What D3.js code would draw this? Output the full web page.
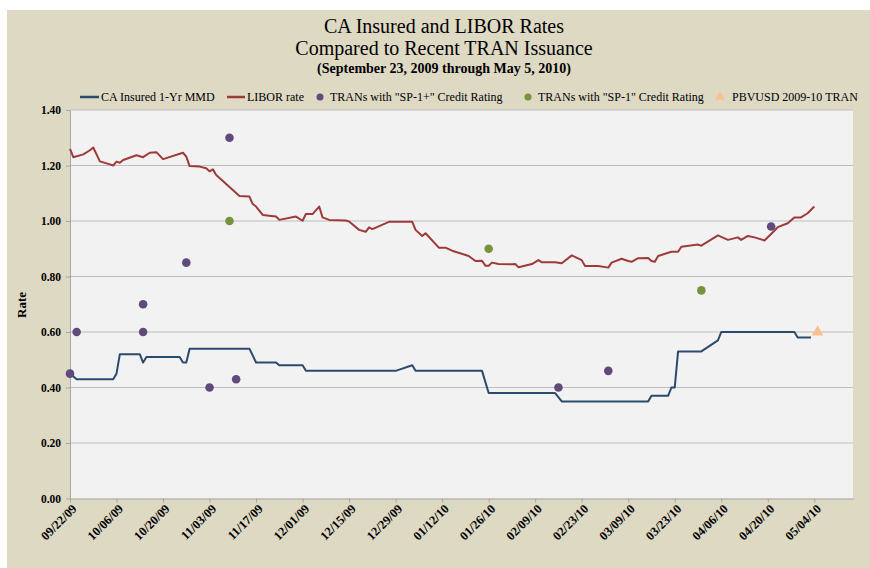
<!DOCTYPE html>
<html>
<head>
<meta charset="utf-8">
<script src="https://cdn.jsdelivr.net/npm/d3@7"></script>
<style>
  body { margin: 0; background: #fff; }
  svg { display: block; }
  text { font-family: "Liberation Serif", "Times New Roman", serif; }
</style>
</head>
<body>
<svg id="chart" width="870" height="568"></svg>
<script>
// CA Insured 1-Yr MMD
const mmdDates = ["09/22/09","09/24/09","10/05/09","10/06/09","10/07/09","10/13/09","10/14/09","10/15/09",
  "10/25/09","10/26/09","10/27/09","10/28/09","11/15/09","11/17/09","11/23/09","11/24/09","12/01/09",
  "12/02/09","12/29/09","01/03/10","01/04/10","01/24/10","01/26/10","02/15/10","02/17/10","03/15/10",
  "03/16/10","03/21/10","03/22/10","03/23/10","03/24/10","03/31/10","04/05/10","04/06/10","04/28/10",
  "04/29/10","05/03/10"];
const mmdValues = [0.45,0.43,0.43,0.45,0.52,0.52,0.49,0.51,
  0.51,0.49,0.49,0.54,0.54,0.49,0.49,0.48,0.48,
  0.46,0.46,0.48,0.46,0.46,0.38,0.38,0.35,0.35,
  0.37,0.37,0.40,0.40,0.53,0.53,0.57,0.60,0.60,
  0.58,0.58];

// LIBOR rate
const liborDates = ["09/22/09","09/23/09","09/26/09","09/28/09","09/29/09","10/01/09","10/04/09","10/05/09",
  "10/06/09","10/07/09","10/08/09","10/12/09","10/14/09","10/16/09","10/18/09","10/20/09","10/26/09",
  "10/27/09","10/28/09","10/31/09","11/02/09","11/03/09","11/04/09","11/05/09","11/10/09","11/12/09",
  "11/15/09","11/16/09","11/17/09","11/19/09","11/23/09","11/24/09","11/29/09","12/01/09","12/02/09",
  "12/04/09","12/06/09","12/07/09","12/09/09","12/14/09","12/15/09","12/18/09","12/20/09","12/21/09",
  "12/22/09","12/27/09","01/03/10","01/04/10","01/06/10","01/07/10","01/11/10","01/13/10","01/15/10",
  "01/20/10","01/22/10","01/24/10","01/25/10","01/26/10","01/27/10","01/29/10","02/02/10","02/03/10",
  "02/04/10","02/08/10","02/10/10","02/11/10","02/15/10","02/17/10","02/20/10","02/23/10","02/24/10",
  "02/28/10","03/03/10","03/04/10","03/07/10","03/09/10","03/10/10","03/12/10","03/15/10","03/16/10",
  "03/17/10","03/18/10","03/22/10","03/24/10","03/25/10","03/30/10","03/31/10","04/05/10","04/08/10",
  "04/11/10","04/12/10","04/14/10","04/16/10","04/19/10","04/22/10","04/23/10","04/26/10","04/28/10",
  "04/30/10","05/02/10","05/04/10"];
const liborValues = [1.26,1.23,1.24,1.255,1.265,1.215,1.204,1.20,
  1.214,1.21,1.22,1.237,1.23,1.246,1.248,1.223,1.246,
  1.232,1.198,1.196,1.19,1.179,1.186,1.166,1.112,1.09,
  1.088,1.061,1.052,1.022,1.016,1.004,1.016,1.001,1.025,
  1.025,1.052,1.013,1.004,1.002,0.998,0.968,0.961,0.977,
  0.971,0.997,0.997,0.968,0.946,0.956,0.904,0.904,0.893,
  0.874,0.856,0.857,0.839,0.839,0.85,0.845,0.844,0.845,
  0.833,0.845,0.859,0.851,0.851,0.848,0.876,0.859,0.838,
  0.838,0.832,0.85,0.864,0.856,0.853,0.866,0.867,0.856,
  0.853,0.874,0.889,0.889,0.907,0.915,0.911,0.948,0.932,
  0.941,0.932,0.946,0.941,0.93,0.965,0.978,0.992,1.013,
  1.013,1.028,1.052];

// TRANs with "SP-1+"
const sp1PlusDates = ["09/22/09","09/24/09","10/14/09","10/14/09","10/27/09","11/03/09","11/09/09","11/11/09",
  "02/16/10","03/03/10","04/21/10"];
const sp1PlusValues = [0.45,0.60,0.70,0.60,0.85,0.40,1.30,0.43,0.40,0.46,0.98];

// TRANs with "SP-1"
const sp1Dates = ["11/09/09","01/26/10","03/31/10"];
const sp1Values = [1.00,0.90,0.75];

// PBVUSD 2009-10 TRAN
const pbvDates = ["05/05/10"];
const pbvValues = [0.60];

const xTickLabels = ["09/22/09","10/06/09","10/20/09","11/03/09","11/17/09","12/01/09","12/15/09","12/29/09",
  "01/12/10","01/26/10","02/09/10","02/23/10","03/09/10","03/23/10","04/06/10","04/20/10","05/04/10"];
const yTicks = [0, 0.2, 0.4, 0.6, 0.8, 1.0, 1.2, 1.4];

const legendLabels = ["CA Insured 1-Yr MMD", "LIBOR rate", "TRANs with \"SP-1+\" Credit Rating",
  "TRANs with \"SP-1\" Credit Rating", "PBVUSD 2009-10 TRAN"];

const colors = {
  mmd: "#2c4a6e",
  libor: "#9e3a3a",
  sp1Plus: "#604a7b",
  sp1: "#77933c",
  pbv: "#fac090"
};

const parse = d3.timeParse("%m/%d/%y");
const zip = (dates, values) => dates.map((d, i) => ({ date: parse(d), value: values[i] }));

const mmd = zip(mmdDates, mmdValues);
const libor = zip(liborDates, liborValues);
const sp1Plus = zip(sp1PlusDates, sp1PlusValues);
const sp1 = zip(sp1Dates, sp1Values);
const pbv = zip(pbvDates, pbvValues);

const plot = { left: 70, right: 853, top: 110, bottom: 498.5 };

const svg = d3.select("#chart");

// x scale: ticks 09/22/09 .. 05/04/10 span 70..814, axis continues to the plot edge
const x = d3.scaleTime()
    .domain([parse("09/22/09"), parse("05/04/10")])
    .range([plot.left, 814.3]);
x.domain([x.domain()[0], x.invert(plot.right)]).range([plot.left, plot.right]);

const y = d3.scaleLinear()
    .domain([0, 1.4])
    .range([plot.bottom, plot.top]);

// backgrounds
svg.append("rect")
    .attr("x", 7).attr("y", 10)
    .attr("width", 863).attr("height", 558)
    .attr("fill", "#ddd9c3");

svg.append("rect")
    .attr("x", plot.left).attr("y", plot.top)
    .attr("width", plot.right - plot.left).attr("height", plot.bottom - plot.top)
    .attr("fill", "#f2f2f2");

// gridlines
svg.append("g")
    .selectAll("line")
    .data(yTicks.filter(d => d > 0))
    .join("line")
    .attr("x1", plot.left).attr("x2", plot.right)
    .attr("y1", d => y(d)).attr("y2", d => y(d))
    .attr("stroke", "#bdbdbd")
    .attr("stroke-width", 1);

// axes
const yAxis = svg.append("g")
    .attr("transform", `translate(${plot.left},0)`)
    .call(d3.axisLeft(y).tickValues(yTicks).tickFormat(d3.format(".2f")).tickSize(4).tickSizeOuter(0));

const xAxis = svg.append("g")
    .attr("transform", `translate(0,${plot.bottom})`)
    .call(d3.axisBottom(x).tickValues(xTickLabels.map(parse)).tickFormat(d3.timeFormat("%m/%d/%y"))
        .tickSize(4).tickSizeOuter(0));

[xAxis, yAxis].forEach(g => {
    g.select(".domain").attr("stroke", "#a6a6a6");
    g.selectAll(".tick line").attr("stroke", "#a6a6a6");
    g.selectAll(".tick text")
        .attr("fill", "#000")
        .attr("font-size", 11.5)
        .attr("font-weight", "bold");
});

yAxis.selectAll(".tick text").attr("x", -9);

xAxis.selectAll(".tick text")
    .attr("y", 0)
    .attr("dy", 0)
    .attr("font-size", 12.5)
    .attr("text-anchor", "end")
    .attr("transform", "translate(7,11) rotate(-45)");

// y axis title
svg.append("text")
    .attr("transform", "translate(26,305) rotate(-90)")
    .attr("text-anchor", "middle")
    .attr("font-size", 13)
    .attr("font-weight", "bold")
    .text("Rate");

// lines
const line = d3.line()
    .x(d => x(d.date))
    .y(d => y(d.value));

svg.append("path")
    .datum(libor)
    .attr("fill", "none")
    .attr("stroke", colors.libor)
    .attr("stroke-width", 2)
    .attr("stroke-linejoin", "round")
    .attr("d", line);

svg.append("path")
    .datum(mmd)
    .attr("fill", "none")
    .attr("stroke", colors.mmd)
    .attr("stroke-width", 2)
    .attr("stroke-linejoin", "round")
    .attr("d", line);

// points
svg.append("g")
    .selectAll("circle")
    .data(sp1Plus)
    .join("circle")
    .attr("cx", d => x(d.date))
    .attr("cy", d => y(d.value))
    .attr("r", 4.3)
    .attr("fill", colors.sp1Plus);

svg.append("g")
    .selectAll("circle")
    .data(sp1)
    .join("circle")
    .attr("cx", d => x(d.date))
    .attr("cy", d => y(d.value))
    .attr("r", 4.3)
    .attr("fill", colors.sp1);

svg.append("g")
    .selectAll("path")
    .data(pbv)
    .join("path")
    .attr("transform", d => `translate(${x(d.date)},${y(d.value)})`)
    .attr("d", d3.symbol(d3.symbolTriangle, 60))
    .attr("fill", colors.pbv);

// title
const title = svg.append("g").attr("text-anchor", "middle");
title.append("text").attr("x", 444).attr("y", 33).attr("font-size", 20).text("CA Insured and LIBOR Rates");
title.append("text").attr("x", 444).attr("y", 55).attr("font-size", 20).text("Compared to Recent TRAN Issuance");
title.append("text").attr("x", 444).attr("y", 73).attr("font-size", 14).attr("font-weight", "bold")
    .text("(September 23, 2009 through May 5, 2010)");

// legend
const legendY = 97;
const legendX = [101, 247, 330, 538, 732];
const legend = svg.append("g").attr("font-size", 12);

legend.append("line").attr("x1", 80).attr("x2", 99).attr("y1", legendY).attr("y2", legendY)
    .attr("stroke", colors.mmd).attr("stroke-width", 2.5);
legend.append("line").attr("x1", 227).attr("x2", 245).attr("y1", legendY).attr("y2", legendY)
    .attr("stroke", colors.libor).attr("stroke-width", 2.5);
legend.append("circle").attr("cx", 320).attr("cy", legendY).attr("r", 3.5).attr("fill", colors.sp1Plus);
legend.append("circle").attr("cx", 528).attr("cy", legendY).attr("r", 3.5).attr("fill", colors.sp1);
legend.append("path").attr("transform", `translate(720,${legendY})`)
    .attr("d", d3.symbol(d3.symbolTriangle, 40)).attr("fill", colors.pbv);

legend.selectAll("text")
    .data(legendLabels)
    .join("text")
    .attr("x", (d, i) => legendX[i])
    .attr("y", legendY)
    .attr("dy", "0.35em")
    .text(d => d);
</script>
</body>
</html>
